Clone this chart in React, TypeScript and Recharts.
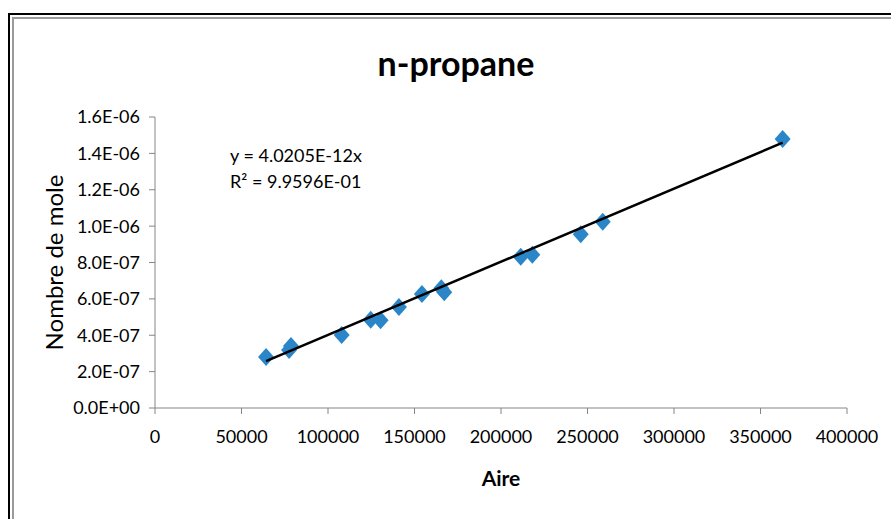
import React from "react";
import {
  Label,
  Scatter,
  ScatterChart,
  XAxis,
  YAxis,
} from "recharts";

// aire (x) vs nombre de mole (y)
const aire = [
  64200, 77500, 78600, 107900, 124700, 130400, 141000, 154300, 165500, 167200,
  211400, 218100, 246100, 258800, 362800,
];
const moles = [
  2.8e-7, 3.19e-7, 3.41e-7, 4.01e-7, 4.85e-7, 4.82e-7, 5.55e-7, 6.27e-7,
  6.58e-7, 6.36e-7, 8.32e-7, 8.43e-7, 9.55e-7, 1.024e-6, 1.479e-6,
];
const xTicks = [0, 50000, 100000, 150000, 200000, 250000, 300000, 350000, 400000];
const yTicks = [0, 2e-7, 4e-7, 6e-7, 8e-7, 1e-6, 1.2e-6, 1.4e-6, 1.6e-6];

const slope = 4.0205e-12;
const equation = "y = 4.0205E-12x";
const rSquared = "R² = 9.9596E-01";

const points = aire.map((x, i) => ({ x, y: moles[i] }));
const xMin = Math.min(...aire);
const xMax = Math.max(...aire);
const trend = [
  { x: xMin, y: slope * xMin },
  { x: xMax, y: slope * xMax },
];

const FONT = "Lato, 'Liberation Sans', sans-serif";
const AXIS = "#868686";

function sci(v: number) {
  if (v === 0) return "0.0E+00";
  const [m, e] = v.toExponential(1).split("e");
  const n = parseInt(e, 10);
  const sign = n < 0 ? "-" : "+";
  return `${m}E${sign}${String(Math.abs(n)).padStart(2, "0")}`;
}

const Diamond = (props: any) => {
  const { cx, cy } = props;
  if (cx == null || cy == null) return <g />;
  const w = 8;
  const h = 9;
  return (
    <polygon
      points={`${cx},${cy - h} ${cx + w},${cy} ${cx},${cy + h} ${cx - w},${cy}`}
      fill="#2A86C8"
    />
  );
};

export default function App() {
  return (
    <div
      style={{
        position: "fixed",
        left: 0,
        top: 0,
        width: 891,
        height: 519,
        overflow: "hidden",
        background: "#fff",
        fontFamily: FONT,
      }}
    >
      <div
        style={{
          position: "absolute",
          left: 8,
          top: 13,
          width: 1200,
          height: 1200,
          borderTop: "2px solid #000",
          borderLeft: "2px solid #000",
        }}
      />
      <div
        style={{
          position: "absolute",
          left: 12,
          top: 17,
          width: 1200,
          height: 1200,
          borderTop: "2px solid #9a9a9a",
          borderLeft: "2px solid #9a9a9a",
        }}
      />
      <div
        style={{
          position: "absolute",
          left: 0,
          width: 912,
          top: 42,
          textAlign: "center",
          fontSize: 34,
          fontWeight: "bold",
          fontFamily: FONT,
        }}
      >
        n-propane
      </div>
      <div
        style={{
          position: "absolute",
          left: 230,
          top: 142,
          fontSize: 18,
          lineHeight: "26px",
          fontFamily: FONT,
        }}
      >
        <div>{equation}</div>
        <div>{rSquared}</div>
      </div>
      <div style={{ position: "absolute", left: 0, top: 0 }}>
        <ScatterChart
          width={891}
          height={519}
          margin={{ top: 117, right: 44, bottom: 81, left: 65 }}
        >
          <XAxis
            type="number"
            dataKey="x"
            domain={[0, 400000]}
            ticks={xTicks}
            interval={0}
            height={30}
            stroke={AXIS}
            tickSize={6}
            tickMargin={16}
            tick={{ fill: "#000", fontSize: 18, fontFamily: FONT }}
          >
            <Label
              value="Aire"
              position="bottom"
              offset={33}
              style={{ fontSize: 21, fontWeight: "bold", fill: "#000", fontFamily: FONT }}
            />
          </XAxis>
          <YAxis
            type="number"
            dataKey="y"
            domain={[0, 1.6e-6]}
            ticks={yTicks}
            interval={0}
            width={90}
            stroke={AXIS}
            tickSize={6}
            tickMargin={9}
            tickFormatter={sci}
            tick={{ fill: "#000", fontSize: 18, fontFamily: FONT }}
          >
            <Label
              content={(p: any) => {
                const vb = p.viewBox || {};
                const cx = 53;
                const cy = vb.y + vb.height / 2;
                return (
                  <text
                    x={cx}
                    y={cy}
                    transform={`rotate(-90 ${cx} ${cy})`}
                    textAnchor="middle"
                    dominantBaseline="central"
                    fontSize={24}
                    fontFamily={FONT}
                    fill="#000"
                  >
                    Nombre de mole
                  </text>
                );
              }}
            />
          </YAxis>
          <Scatter
            data={points}
            shape={<Diamond />}
            isAnimationActive={false}
          />
          <Scatter
            data={trend}
            line={{ stroke: "#000", strokeWidth: 2.5 }}
            shape={() => <g />}
            isAnimationActive={false}
          />
        </ScatterChart>
      </div>
    </div>
  );
}
